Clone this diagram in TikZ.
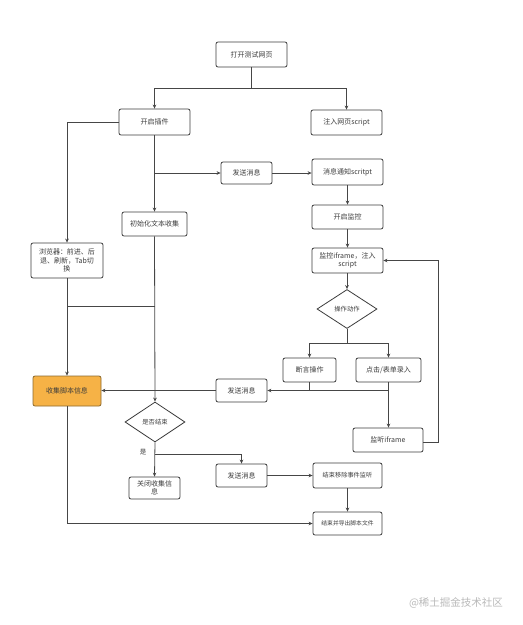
\documentclass[tikz,border=0pt]{standalone}
\usepackage{fontspec}
\setmainfont{Noto Sans CJK SC}
\usetikzlibrary{shapes.geometric,arrows.meta}
\definecolor{boxline}{RGB}{60,60,60}
\definecolor{conn}{RGB}{70,70,70}
\definecolor{txt}{RGB}{60,60,60}
\definecolor{orangefill}{RGB}{246,178,70}
\definecolor{orangeline}{RGB}{140,105,45}
\definecolor{wm}{RGB}{185,185,185}
\tikzset{
  box/.style={draw=boxline, line width=0.8pt, rounded corners=2pt, fill=white,
    inner sep=1pt, align=center, text=txt, font=\fontsize{7}{9}\selectfont},
  orangebox/.style={box, fill=orangefill, draw=orangeline},
  decision/.style={draw=boxline, line width=0.8pt, diamond, inner sep=0pt, fill=white,
    text=txt, font=\fontsize{6.3}{8}\selectfont},
  arr/.style={draw=conn, line width=0.8pt, -{Stealth[length=4pt,width=3.6pt]}},
  ln/.style={draw=conn, line width=0.8pt},
  smalltxt/.style={font=\fontsize{6.2}{8}\selectfont}
}
\begin{document}
\begin{tikzpicture}[x=1pt,y=-1pt]
\useasboundingbox (0,0) rectangle (523,625);
\node[box, minimum width=71pt, minimum height=25pt] (open) at (251.5,54.5) {打开测试网页};
\node[box, minimum width=71pt, minimum height=26pt] (plugin) at (154.5,122) {开启插件};
\node[box, minimum width=71pt, minimum height=25pt] (inject) at (346.5,122.5) {注入网页script};
\node[box, minimum width=51pt, minimum height=22pt] (send1) at (246.5,173) {发送消息};
\node[box, minimum width=71pt, minimum height=26pt] (notify) at (347.5,172) {消息通知scritpt};
\node[box, minimum width=71pt, minimum height=24pt] (monitor) at (347.5,217) {开启监控};
\node[box, minimum width=71pt, minimum height=25pt, font=\fontsize{7}{8.5}\selectfont] (iframe) at (347.5,260.5) {监控iframe，注入\\script};
\node[box, minimum width=65pt, minimum height=24pt] (init) at (154.5,224) {初始化文本收集};
\node[box, minimum width=72pt, minimum height=35pt, font=\fontsize{7}{8.5}\selectfont] (browser) at (67,260.5) {浏览器：前进、后\\退、刷新，Tab切\\换};
\node[decision, minimum width=60pt, minimum height=39pt] (action) at (347,309) {操作动作};
\node[box, minimum width=53pt, minimum height=24pt] (assert) at (309.5,370) {断言操作};
\node[box, minimum width=65pt, minimum height=24pt] (click) at (388.5,370) {点击/表单录入};
\node[box, minimum width=51pt, minimum height=23pt] (send2) at (241.5,390.5) {发送消息};
\node[orangebox, minimum width=68pt, minimum height=30pt] (collect) at (67,391) {收集脚本信息};
\node[box, minimum width=70pt, minimum height=24pt] (listen) at (388,440) {监听iframe};
\node[decision, minimum width=60pt, minimum height=40pt] (endq) at (155,422) {是否结束};
\node[box, minimum width=51pt, minimum height=22pt, font=\fontsize{7}{8}\selectfont] (close) at (154.5,488) {关闭收集信\\息};
\node[box, minimum width=51pt, minimum height=23pt] (send3) at (241.5,475.5) {发送消息};
\node[box, minimum width=69pt, minimum height=25pt, smalltxt] (remove) at (347.5,475.5) {结束移除事件监听};
\node[box, minimum width=69pt, minimum height=23pt, font=\fontsize{5.8}{7}\selectfont] (export) at (347.5,523.5) {结束并导出脚本文件};
\node[text=wm, font=\fontsize{10.5}{12}\selectfont] (wmark) at (456,603) {@稀土掘金技术社区};

% connectors
\coordinate (j1) at (251.5,88);
\draw[ln] (open.south) -- (j1);
\draw[arr] (j1) -| (plugin.north);
\draw[arr] (j1) -| (inject.north);
\draw[arr] (plugin.west) -| (browser.north);
\draw[arr] (plugin.south) -- (init.north);
\draw[arr] (plugin.south |- send1.west) -- (send1.west);
\draw[arr] (send1.east) -- (send1.east -| notify.west);
\draw[arr] (notify.south) -- (monitor.north);
\draw[arr] (monitor.south) -- (iframe.north);
\draw[arr] (iframe.south -| action.north) -- (action.north);
\coordinate (j3) at (347,343);
\draw[ln] (action.south) -- (j3);
\draw[arr] (j3) -| (assert.north);
\draw[arr] (j3) -| (click.north);
\draw[arr] (assert.south) |- (send2.east);
\draw[ln] (click.south |- send2.east) -- (assert.south |- send2.east);
\draw[arr] (click.south) -- (click.south |- listen.north);
\draw[arr] (send2.west) -- (send2.west -| collect.east);
\draw[arr] (browser.south) -- (collect.north);
\draw[arr] (init.south) -- (endq.north);
\coordinate (j2) at (154.5,306);
\draw[ln] (j2) -- (browser.south |- j2);
\draw[arr] (endq.south) -- (close.north);
\coordinate (j4) at (155,454);
\draw[arr] (j4) -| (send3.north);
\node[text=txt, font=\fontsize{6.5}{8}\selectfont, anchor=east] (yes) at (150,452) {是};
\draw[arr] (send3.east) -- (send3.east -| remove.west);
\draw[arr] (remove.south) -- (export.north);
\draw[arr] (collect.south) |- (export.west);
\coordinate (j5) at (438,442);
\draw[arr] (listen.east |- j5) -- (j5) |- (iframe.east);
\end{tikzpicture}
\end{document}
